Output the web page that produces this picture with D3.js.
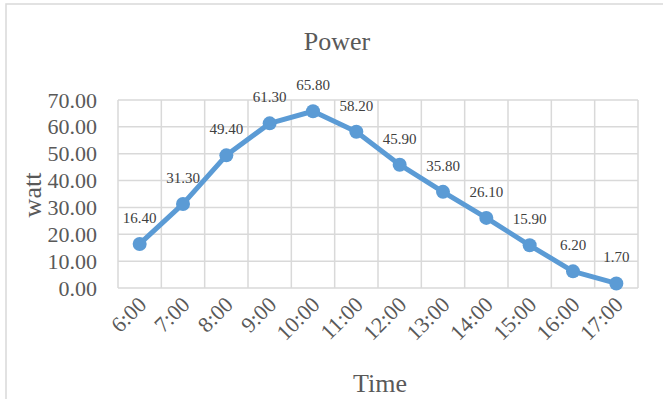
<!DOCTYPE html>
<html>
<head>
<meta charset="utf-8">
<script src="https://cdn.jsdelivr.net/npm/d3@7"></script>
<style>
  body { margin: 0; background: #fff; }
  text { font-family: "Liberation Serif", serif; fill: #595959; }
</style>
</head>
<body>
<svg width="663" height="399"></svg>
<script>
var hours = ['6:00','7:00','8:00','9:00','10:00','11:00','12:00','13:00','14:00','15:00','16:00','17:00'];
var power = [16.40, 31.30, 49.40, 61.30, 65.80, 58.20, 45.90, 35.80, 26.10, 15.90, 6.20, 1.70];
var yTicks = [0, 10, 20, 30, 40, 50, 60, 70];

var svg = d3.select('svg');

// chart border (cut off at right and bottom in the original)
svg.append('rect')
    .attr('x', 6)
    .attr('y', 4)
    .attr('width', 700)
    .attr('height', 420)
    .attr('fill', '#fff')
    .attr('stroke', '#d9d9d9')
    .attr('stroke-width', 1.5);

var plotLeft = 118, plotRight = 638, plotTop = 100, plotBottom = 288;

var x = d3.scaleBand()
    .domain(hours)
    .range([plotLeft, plotRight]);

var y = d3.scaleLinear()
    .domain([0, 70])
    .range([plotBottom, plotTop]);

// horizontal grid
svg.selectAll('.hgrid')
    .data(yTicks)
    .enter()
    .append('line')
    .attr('class', 'hgrid')
    .attr('x1', plotLeft)
    .attr('x2', plotRight)
    .attr('y1', function(d){ return y(d); })
    .attr('y2', function(d){ return y(d); })
    .attr('stroke', '#d9d9d9')
    .attr('stroke-width', 1.5);

// vertical grid at category boundaries
var bounds = hours.map(function(d){ return x(d); }).concat([plotRight]);
svg.selectAll('.vgrid')
    .data(bounds)
    .enter()
    .append('line')
    .attr('class', 'vgrid')
    .attr('x1', function(d){ return d; })
    .attr('x2', function(d){ return d; })
    .attr('y1', plotTop)
    .attr('y2', plotBottom)
    .attr('stroke', '#d9d9d9')
    .attr('stroke-width', 1.5);

// y axis labels
var yAxis = d3.axisLeft(y)
    .tickValues(yTicks)
    .tickFormat(d3.format('.2f'))
    .tickSize(0)
    .tickPadding(21);
var gy = svg.append('g')
    .attr('transform', 'translate(' + plotLeft + ',0)')
    .call(yAxis);
gy.select('.domain').remove();
gy.attr('font-family', null).attr('font-size', null);
gy.selectAll('text')
    .style('font-size', '22px')
    .attr('fill', '#595959');

// x axis labels
var xAxis = d3.axisBottom(x).tickSize(0).tickPadding(0);
var gx = svg.append('g')
    .attr('transform', 'translate(0,' + plotBottom + ')')
    .call(xAxis);
gx.select('.domain').remove();
gx.attr('font-family', null).attr('font-size', null);
gx.selectAll('text')
    .style('font-size', '22px')
    .attr('fill', '#595959')
    .attr('text-anchor', 'end')
    .attr('dy', 0)
    .attr('y', 0)
    .attr('transform', 'translate(8,18) rotate(-45)');

var cx = function(d, i){ return x(hours[i]) + x.bandwidth() / 2; };

var lineFunction = d3.line()
    .x(function(d, i){ return cx(d, i); })
    .y(function(d){ return y(d); });

svg.append('path')
    .datum(power)
    .attr('d', lineFunction)
    .attr('fill', 'none')
    .attr('stroke', '#5b9bd5')
    .attr('stroke-width', 5)
    .attr('stroke-linejoin', 'round');

svg.selectAll('.dot')
    .data(power)
    .enter()
    .append('circle')
    .attr('class', 'dot')
    .attr('cx', cx)
    .attr('cy', function(d){ return y(d); })
    .attr('r', 7)
    .attr('fill', '#5b9bd5');

svg.selectAll('.lbl')
    .data(power)
    .enter()
    .append('text')
    .attr('class', 'lbl')
    .attr('x', cx)
    .attr('y', function(d){ return y(d) - 21; })
    .attr('text-anchor', 'middle')
    .style('font-size', '15px')
    .style('fill', '#404040')
    .text(function(d){ return d.toFixed(2); });

// titles
svg.append('text')
    .attr('x', 337)
    .attr('y', 50)
    .attr('text-anchor', 'middle')
    .style('font-size', '26px')
    .text('Power');

svg.append('text')
    .attr('x', 380)
    .attr('y', 392)
    .attr('text-anchor', 'middle')
    .style('font-size', '26px')
    .text('Time');

svg.append('text')
    .attr('transform', 'translate(41,195) rotate(-90)')
    .attr('text-anchor', 'middle')
    .style('font-size', '26px')
    .text('watt');
</script>
</body>
</html>
